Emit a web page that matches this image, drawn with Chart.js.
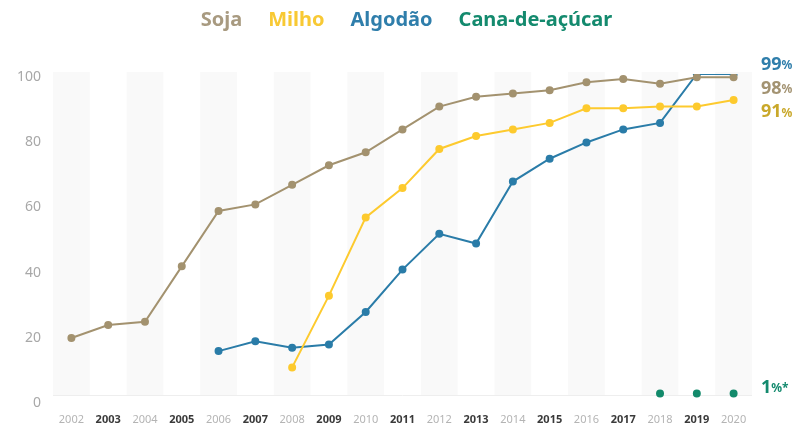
<!DOCTYPE html>
<html>
<head>
<meta charset="utf-8">
<script src="https://cdn.jsdelivr.net/npm/chart.js@4"></script>
<style>
  html, body { margin: 0; padding: 0; background: #fff; }
  #wrap { width: 803px; height: 428px; }
</style>
</head>
<body>
<div id="wrap"><canvas id="adoptionChart" width="803" height="428"></canvas></div>
<script>
// Adoption share by crop (%)
const years = ['2002', '2003', '2004', '2005', '2006', '2007', '2008', '2009', '2010', '2011',
    '2012', '2013', '2014', '2015', '2016', '2017', '2018', '2019', '2020'];
const soja = [19, 23, 24, 41, 58, 60, 66, 72, 76, 83, 90, 93, 94, 95, 97.5, 98.5, 97, 99, 99];
const milho = [null, null, null, null, null, null, 10, 32, 56, 65, 77, 81, 83, 85, 89.5, 89.5, 90, 90, 92];
const algodao = [null, null, null, null, 15, 18, 16, 17, 27, 40, 51, 48, 67, 74, 79, 83, 85, 100, 100];
const cana = [null, null, null, null, null, null, null, null, null, null,
    null, null, null, null, null, null, 2, 2, 2];
const endLabels = [
    { text: '99', suffix: '%', color: '#2f7eab', at: 102.8 },
    { text: '98', suffix: '%', color: '#a39372', at: 95.4 },
    { text: '91', suffix: '%', color: '#c9a82a', at: 88.3 },
    { text: '1', suffix: '%*', color: '#148a6e', at: 3.7 }
];

const legendColors = ['#a89a80', '#f8c934', '#2f7eab', '#148a6e'];

// alternating column shading + right side labels
const bandsPlugin = {
    id: 'bands',
    beforeInit(chart) {
        const legend = chart.legend;
        if (!legend) return;
        const fit = legend.fit;
        legend.fit = function () {
            fit.call(this);
            this.height = 80;
        };
    },
    beforeDatasetsDraw(chart) {
        const { ctx, chartArea, scales } = chart;
        const x = scales.x;
        const w = x.getPixelForValue(1) - x.getPixelForValue(0);
        const base = Math.round(scales.y.getPixelForValue(1.5)) + 0.5;
        const top = chartArea.top - 2;
        ctx.save();
        ctx.fillStyle = '#f9f9f9';
        years.forEach((y, i) => {
            if (i % 2 === 0) {
                const cx = x.getPixelForValue(i);
                ctx.fillRect(cx - w / 2, top, w, base - top);
            }
        });
        ctx.strokeStyle = '#eeeeee';
        ctx.lineWidth = 1;
        ctx.beginPath();
        ctx.moveTo(chartArea.left, base);
        ctx.lineTo(chartArea.right, base);
        ctx.stroke();
        ctx.restore();
    },
    afterDatasetsDraw(chart) {
        const { ctx, chartArea, scales } = chart;
        ctx.save();
        ctx.textBaseline = 'middle';
        endLabels.forEach(l => {
            const y = scales.y.getPixelForValue(l.at);
            const x0 = chartArea.right + 9;
            ctx.fillStyle = l.color;
            ctx.font = 'bold 18px "Noto Sans"';
            ctx.fillText(l.text, x0, y);
            const tw = ctx.measureText(l.text).width;
            ctx.font = 'bold 12px "Noto Sans"';
            ctx.fillText(l.suffix, x0 + tw, y + 1);
        });
        ctx.restore();
    }
};

function makeSet(label, data, color, line) {
    return {
        label: label,
        data: data,
        borderColor: color,
        backgroundColor: color,
        borderWidth: 2,
        pointRadius: 3,
        pointHoverRadius: 4,
        tension: 0,
        fill: false,
        showLine: line,
        spanGaps: false
    };
}

function initializeAdoptionChart() {
    const ctx = document.getElementById('adoptionChart').getContext('2d');

    const data = {
        labels: years,
        datasets: [
            makeSet('Soja', soja, '#a3926f', true),
            makeSet('Milho', milho, '#fdca2e', true),
            makeSet('Algodão', algodao, '#2a7ca8', true),
            makeSet('Cana-de-açúcar', cana, '#138a6b', false)
        ]
    };

    const config = {
        type: 'line',
        data: data,
        plugins: [bandsPlugin],
        options: {
            responsive: false,
            animation: false,
            layout: {
                padding: { left: 0, right: 0, top: -6, bottom: 0 }
            },
            plugins: {
                legend: {
                    display: true,
                    position: 'top',
                    labels: {
                        boxWidth: 0,
                        boxHeight: 0,
                        padding: 16,
                        font: { family: '"Noto Sans"', size: 20, weight: 'bold' },
                        generateLabels(chart) {
                            return chart.data.datasets.map((ds, i) => ({
                                text: ds.label,
                                fontColor: legendColors[i],
                                fillStyle: 'rgba(0,0,0,0)',
                                strokeStyle: 'rgba(0,0,0,0)',
                                lineWidth: 0,
                                hidden: false,
                                datasetIndex: i
                            }));
                        }
                    }
                },
                tooltip: {
                    mode: 'index',
                    intersect: false
                }
            },
            scales: {
                y: {
                    min: 0,
                    max: 100,
                    border: { display: false },
                    grid: { display: false, drawTicks: false },
                    afterFit(axis) { axis.width = 53; },
                    ticks: {
                        stepSize: 20,
                        padding: 12,
                        labelOffset: 3,
                        color: '#a8a8a8',
                        font: { family: '"Noto Sans"', size: 14 }
                    }
                },
                yR: {
                    position: 'right',
                    min: 0,
                    max: 100,
                    border: { display: false },
                    grid: { display: false, drawTicks: false },
                    ticks: { display: false },
                    afterFit(axis) { axis.width = 51; }
                },
                x: {
                    offset: true,
                    border: { display: false },
                    grid: { display: false, drawTicks: false },
                    afterFit(axis) { axis.height = 28; },
                    ticks: {
                        maxRotation: 0,
                        autoSkip: false,
                        padding: 13,
                        color: c => (c.index % 2 === 0 ? '#b4b4b4' : '#3a3a3a'),
                        font: c => ({
                            family: '"Noto Sans"',
                            size: 11,
                            weight: c.index % 2 === 0 ? 'normal' : 'bold'
                        })
                    }
                }
            }
        }
    };

    new Chart(ctx, config);
}

document.addEventListener('DOMContentLoaded', initializeAdoptionChart);
</script>
</body>
</html>
